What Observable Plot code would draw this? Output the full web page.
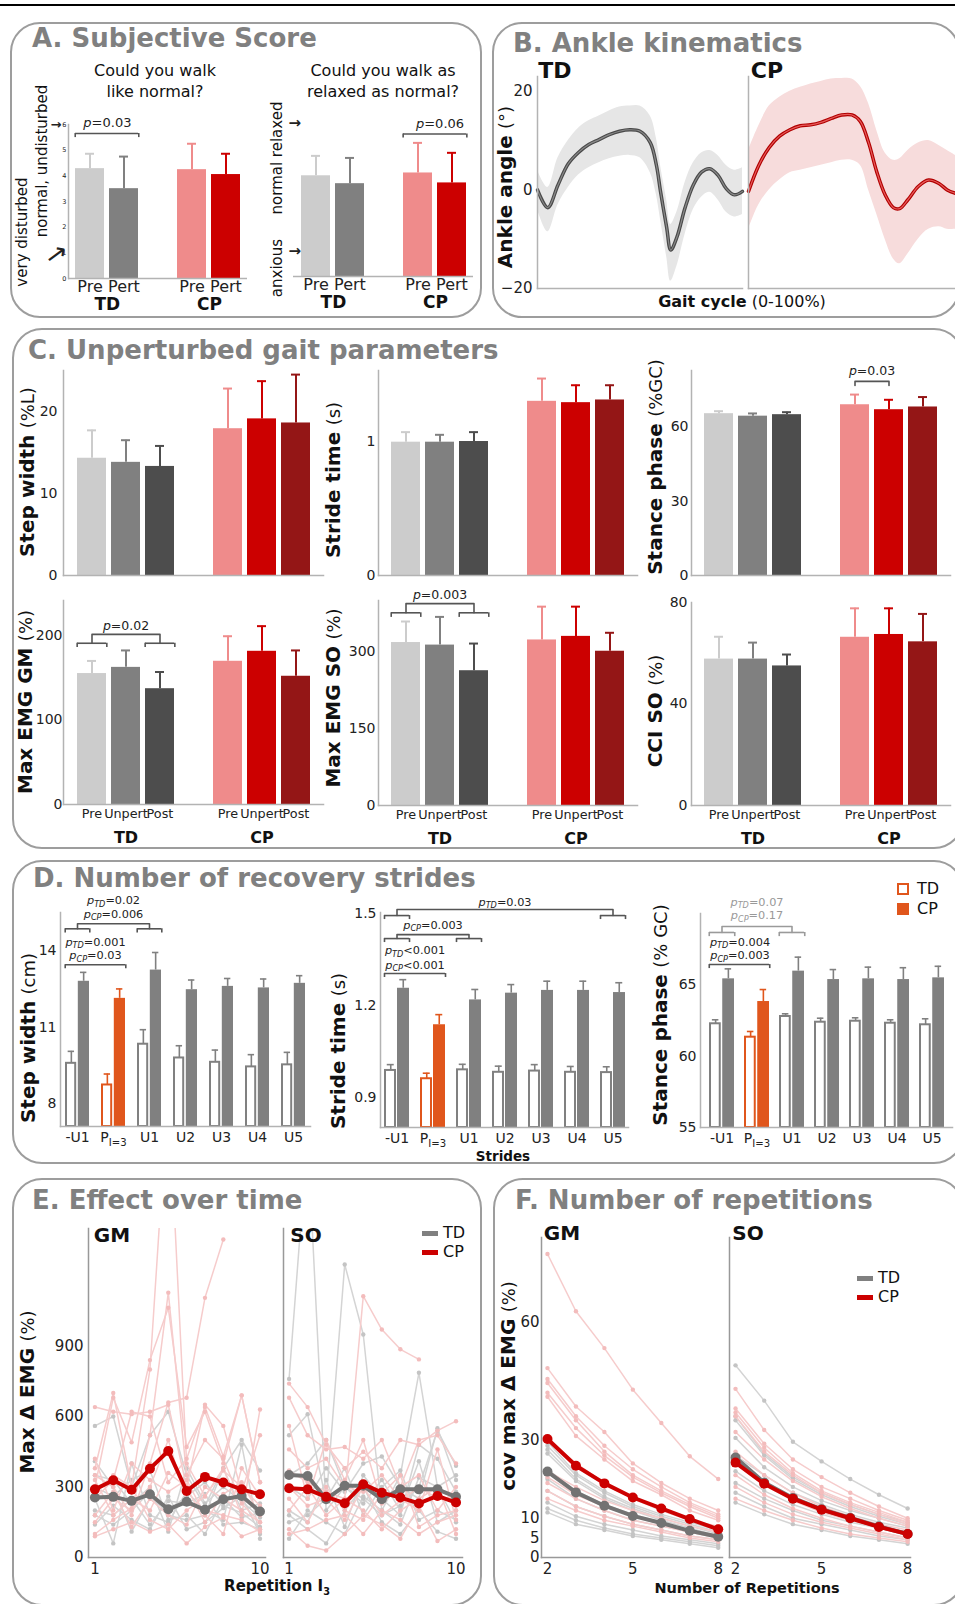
<!DOCTYPE html>
<html><head><meta charset="utf-8">
<script src="https://cdn.jsdelivr.net/npm/d3@7"></script>
<script src="https://cdn.jsdelivr.net/npm/@observablehq/plot@0.6"></script>
<style>
body{margin:0;background:#fff;}
#root{position:relative;width:955px;height:1604px;overflow:hidden;font-family:"DejaVu Sans",Verdana,sans-serif;color:#111;background:#fff;}
</style></head><body><div id="root"></div>
<script>
// ---------------- DATA ----------------
// Panel A: subjective score
const aCats = ["TD Pre","TD Pert","gap","CP Pre","CP Pert"];
const aKeys = ["TD Pre","TD Pert","CP Pre","CP Pert"];
const aColors = ["#cccccc","#808080","#ef8b8b","#cc0000"];
const aQ1 = [4.28,3.50,4.24,4.05];
const aQ1sd = [0.58,1.25,1.01,0.81];
const aQ2 = [3.95,3.64,4.06,3.67];
const aQ2sd = [0.78,1.01,1.18,1.18];
const aYTicks = [0,1,2,3,4,5,6];

// Panel B: ankle kinematics
const bPctTD = [0,5,10,15,20,25,30,35,40,45,50,55,58,60,63,65,68,72,76,80,84,88,92,96,100];
const bTDmean = [0,-3.6,1.0,5.3,7.6,9.2,10.2,11.2,11.9,12.2,11.9,9.6,5.0,-0.3,-7.6,-12.2,-9.6,-3.6,1.0,3.6,4.3,3.0,0.3,-1.0,-0.3];
const bTDhi = [4,0.5,6.5,10,12.5,14,15,16,16.8,17,17,15,10.5,5,-2,-7,-4.5,1.5,5.5,7.5,8,7,5,4,4.5];
const bTDlo = [-4,-8.5,-3,0.5,3,4.5,5.5,6.3,6.8,7,6.5,3.5,-1,-6,-13.5,-18.5,-15.5,-9,-4,-1.5,-0.5,-2,-4.5,-5.5,-5];
const bPctCP = [0,5,10,15,20,25,30,35,40,45,50,54,58,62,66,70,73,77,82,87,92,96,100];
const bCPmean = [-0.3,5.0,8.6,10.9,12.2,13.0,13.2,13.7,14.5,15.2,15.2,13.9,9.6,3.6,-1.0,-3.6,-3.8,-2.0,0.7,2.0,1.3,0,-0.7];
const bCPhi = [8,13,17,18.8,20,20.8,21.5,22,22.5,22.6,22.5,21,17.5,12,7.5,6,6.3,8,9.5,10,9,8,7];
const bCPlo = [-8,-3,0,2,3.5,4,4.5,5,5.5,6,6,5,0,-5,-10,-14,-15,-13,-10,-8,-7.5,-8,-8];
const bYTicks = [-20,0,20];

// Panel C: unperturbed gait parameters
const cCats = ["TD Pre","TD Unpert","TD Post","gap","CP Pre","CP Unpert","CP Post"];
const cKeys = ["TD Pre","TD Unpert","TD Post","CP Pre","CP Unpert","CP Post"];
const cColors = ["#cccccc","#808080","#4d4d4d","#ef8b8b","#cc0000","#941616"];
const cStepW = [14.3,13.8,13.3,17.9,19.1,18.6];
const cStepWsd = [3.4,2.7,2.5,4.9,4.6,5.9];
const cStride = [0.995,0.995,1.0,1.30,1.29,1.31];
const cStridesd = [0.075,0.055,0.07,0.17,0.13,0.11];
const cStance = [65.2,64.2,64.8,68.8,66.8,67.9];
const cStancesd = [1.0,1.1,1.0,4.1,4.0,4.0];
const cGM = [154.7,162,136.8,169.2,181,151.5];
const cGMsd = [14.9,20,19.7,29.6,29.7,30.5];
const cSO = [318,313,263,323,330,301];
const cSOsd = [41,55,53,65,58,36];
const cCCI = [57.7,57.7,55,66.3,67.4,64.5];
const cCCIsd = [8.8,6.5,4.5,11.4,10.3,11];

// Panel D: recovery strides
const dGroups = ["-U1","P","U1","U2","U3","U4","U5"];
const dStepTD = [9.58,8.73,10.33,9.79,9.62,9.44,9.52];
const dStepTDsd = [0.47,0.43,0.57,0.48,0.48,0.48,0.49];
const dStepCP = [12.8,12.13,13.24,12.47,12.6,12.54,12.72];
const dStepCPsd = [0.35,0.37,0.69,0.38,0.31,0.35,0.3];
const dStrTD = [0.988,0.961,0.990,0.982,0.986,0.982,0.981];
const dStrTDsd = [0.019,0.018,0.018,0.02,0.021,0.019,0.019];
const dStrCP = [1.256,1.137,1.218,1.24,1.249,1.249,1.242];
const dStrCPsd = [0.028,0.033,0.034,0.028,0.03,0.03,0.032];
const dStaTD = [62.27,61.33,62.78,62.38,62.45,62.31,62.2];
const dStaTDsd = [0.28,0.4,0.19,0.28,0.24,0.24,0.42];
const dStaCP = [65.42,63.83,65.96,65.37,65.42,65.37,65.49];
const dStaCPsd = [0.7,0.84,0.98,0.7,0.82,0.83,0.81];

// Panel E: effect over time (repetitions 1..10)
const eReps = [1,2,3,4,5,6,7,8,9,10];
const eGM_TD_mean = [255,258,241,269,205,237,203,248,262,196];
const eGM_CP_mean = [290,329,288,378,453,283,343,319,290,269];
const eSO_TD_mean = [351,347,248,305,305,248,290,290,290,258];
const eSO_CP_mean = [295,290,258,231,312,276,255,230,262,234];
const eGM_TD_ind = [
 [560,600,300,520,620,350,220,380,500,370],
 [250,60,400,180,150,280,200,160,480,80],
 [410,300,110,250,200,260,320,220,190,130],
 [140,220,160,120,260,120,150,210,260,100],
 [300,260,330,370,160,180,100,250,170,190],
 [200,180,250,140,240,230,270,140,150,120],
 [350,330,230,300,110,380,230,300,240,170],
 [180,140,200,280,180,160,180,380,200,230]];
const eGM_CP_ind = [
 [380,700,300,800,2000,400,260,380,180,630],
 [640,620,610,620,650,300,650,560,280,520],
 [300,680,490,840,1063,470,620,400,690,320],
 [150,250,200,520,1127,350,500,420,230,150],
 [350,300,180,400,660,680,1105,1353,null,null],
 [250,330,620,600,320,420,640,430,690,320],
 [180,280,130,250,180,140,300,250,200,150],
 [100,160,210,300,500,240,200,180,160,110],
 [280,350,300,160,120,200,260,370,300,220],
 [420,200,400,330,280,330,180,100,380,260],
 [90,120,150,110,140,60,130,170,90,120],
 [330,180,250,200,360,300,150,270,320,180]];
const eSO_TD_ind = [
 [760,1800,200,300,250,180,220,300,540,390],
 [520,610,240,1247,949,200,350,786,300,150],
 [300,250,380,280,400,430,300,250,550,330],
 [180,120,60,200,300,150,100,200,110,80],
 [200,150,330,130,350,250,180,480,420,280],
 [150,180,250,380,180,300,370,160,200,160],
 [80,200,150,100,260,200,140,340,300,350],
 [350,400,500,300,230,330,200,410,150,200]];
const eSO_CP_ind = [
 [370,320,280,250,1112,970,886,843,null,null],
 [740,640,480,380,450,380,500,480,540,580],
 [680,520,460,470,420,500,300,500,520,400],
 [560,250,500,330,500,230,300,350,200,300],
 [120,50,30,100,180,140,80,220,70,120],
 [250,150,300,200,160,270,350,130,180,200],
 [200,300,180,250,200,120,200,250,300,100],
 [460,380,420,300,280,350,250,200,460,160],
 [100,120,160,180,100,200,160,100,150,180],
 [300,220,250,160,300,180,240,300,250,240]];

// Panel F: number of repetitions (2..8)
const fReps = [2,3,4,5,6,7,8];
const fGM_TD_mean = [21.9,16.6,13.2,10.6,8.8,6.8,5.3];
const fGM_CP_mean = [30.2,23.4,18.9,15.3,12.5,9.8,7.2];
const fSO_TD_mean = [25.5,19.1,15.2,12.3,10.1,7.9,6.0];
const fSO_CP_mean = [24.2,18.8,15.0,12.2,10.0,7.8,6.0];
const fGM_TD_ind = [
 [29.5,21.5,17,13.5,11,9,7],[28.5,21,16.5,13,10.5,8.5,6.5],[27.5,20,15.5,12.5,10,8,6],
 [26.5,19.5,15,12,9.5,7.5,5.5],[22.5,17,13.5,11,9,7,5.5],[20,15,12,9.5,8,6.5,5],
 [17,13,10.5,8.5,7,5.5,4.5],[14,10.5,8.5,7,5.5,4.5,3.5],[12.5,9.5,7.5,6,5,4,3],[11.5,8.5,7,5.5,4.5,3.5,2.5]];
const fGM_CP_ind = [
 [77.4,62.8,53.4,42.8,34.3,25.8,20],[48.3,38.5,32,24,19,15,12],[45.5,36,28.5,22.5,18,14,11],
 [44.5,35,27,21,17,13.5,10.5],[42,33,26,20.5,16.5,13,10],[41,31,25,19.5,16,12,9.5],
 [30,24,19,15,12,9.5,8],[22,18,14.5,12,10,8,6.5],[19,15,12,9.5,8,6.5,5],
 [17,13,10.5,8.5,7,5.5,4.5],[15,12,9.5,8,6.5,5,4],[20.5,16,13,10.5,8.5,7,5.5]];
const fSO_TD_ind = [
 [49,40,29.5,24.5,20,16,12.5],[36,26.5,20.5,16.5,13.5,11,9],[35,26,20,16,13,10.5,8.5],
 [30.5,23,18,14.5,12,10,8],[26,21,16.5,13.5,11,9,7.5],[25,19,15,12,10,8,6.5],
 [22,17,13.5,11,9,7.5,6],[19,15,12,9.5,8,6.5,5],[16.5,13,10,8.5,7,5.5,4.5],[14,11,8.5,7,5.5,4.5,3.5]];
const fSO_CP_ind = [
 [43,32.5,25,20.5,16.5,13,10],[38,29,22.5,18,15,12,9.5],[37,28,21.5,17,14,11.5,9],
 [36,27,21,16.5,13.5,11,8.5],[32,25,19.5,15.5,12.5,10,8],[27,21,16.5,13,10.5,8.5,7],
 [24,18.5,14.5,11.5,9.5,7.5,6],[21,16,12.5,10,8,6.5,5],[18,14,11,9,7.5,6,4.5],[15,12,9.5,7.5,6,5,4]];

// ---------------- HELPERS ----------------
const FONT = '"DejaVu Sans", Verdana, sans-serif';
const ORANGE = "#e0561c", DGRAY = "#808080", AXC = "#b3b3b3";
const root = document.getElementById("root");
const NS = "http://www.w3.org/2000/svg";

function html(s, css){const d=document.createElement("div");d.innerHTML=s;d.style.cssText="position:absolute;white-space:nowrap;line-height:1;"+css;root.appendChild(d);return d;}
function ctext(s,cx,cy,css=""){return html(s,`left:${cx}px;top:${cy}px;transform:translate(-50%,-50%);${css}`);}
function rtext(s,cx,cy,css=""){return html(s,`left:${cx}px;top:${cy}px;transform:translate(-50%,-50%) rotate(-90deg);${css}`);}
function box(l,t,r,b){html("",`left:${l}px;top:${t}px;width:${r-l}px;height:${b-t}px;border:2.5px solid #9d9d9d;border-radius:30px;box-sizing:border-box;`);}
function title(s,l,t){html(s,`left:${l}px;top:${t}px;font-weight:bold;font-size:26px;color:#808080;`);}
function ylab(b,n,cx,cy,fs=20){rtext(`<b>${b}</b> <span style="font-size:${fs-2}px">${n}</span>`,cx,cy,`font-size:${fs}px;color:#111`);}

function ts(p,txt,at){const t=document.createElementNS(NS,"tspan");for(const k in at)t.setAttribute(k,at[k]);t.textContent=txt;p.appendChild(t);}
function richify(svg){
  svg.querySelectorAll("text, tspan").forEach(el=>{
    if(el.childElementCount)return;
    const s=el.textContent;
    let m=s.match(/^p(?:_(TD|CP))?([=<].*)$/);
    if(m){el.textContent="";ts(el,"p",{"font-style":"italic"});
      if(m[1]){ts(el,m[1],{"font-style":"italic","font-size":"0.72em",dy:"0.3em"});ts(el,m[2],{dy:"-0.22em"});}
      else ts(el,m[2],{});return;}
    m=s.match(/^P_(.+)$/);
    if(m){el.textContent="";ts(el,"P",{});ts(el,m[1],{"font-size":"0.72em",dy:"0.35em"});}
  });
}
function place(spec,fr,m,fs=15){
  const [x0,y0,x1,y1]=fr;
  const M=Object.assign({l:50,t:40,r:20,b:45},m||{});
  const svg=Plot.plot(Object.assign({
    width:x1-x0+M.l+M.r,height:y1-y0+M.t+M.b,
    marginLeft:M.l,marginTop:M.t,marginRight:M.r,marginBottom:M.b,
    style:{fontFamily:FONT,fontSize:fs+"px",color:"#222",background:"none",overflow:"visible"}
  },spec));
  svg.style.position="absolute";svg.style.left=(x0-M.l)+"px";svg.style.top=(y0-M.t)+"px";svg.style.overflow="visible";
  richify(svg);root.appendChild(svg);return svg;
}
function bandInfo(n,x0,x1,pi,po){const step=(x1-x0)/(n-pi+2*po);return {step,bw:step*(1-pi)};}
function edgeBr(list,bw,c){return list.length?[
  Plot.ruleY(list,{x1:"a",x2:"b",y:"y",stroke:c,strokeWidth:1.6}),
  Plot.ruleX(list,{x:"a",y1:"y",y2:"y2",stroke:c,strokeWidth:1.6,dx:-bw/2}),
  Plot.ruleX(list,{x:"b",y1:"y",y2:"y2",stroke:c,strokeWidth:1.6,dx:bw/2})]:[];}
function ctrBr(list,c){const pts=list.flatMap((d,i)=>[{x:d.a,y:d.y2,i},{x:d.a,y:d.y,i},{x:d.b,y:d.y,i},{x:d.b,y:d.y2,i}]);
  return list.length?[Plot.line(pts,{x:"x",y:"y",z:"i",stroke:c,strokeWidth:1.6})]:[];}
function pTexts(list,c,fs){return list.map(d=>Plot.text([d],{x:"x",y:"y",text:"t",dx:d.dx||0,fill:c,fontSize:fs}));}

// ---------------- LAYOUT: boxes & titles ----------------
html("","left:0;top:4px;width:955px;height:1.5px;background:#000");
box(10,22,482,318); box(492,22,960,318); box(12,328,964,849); box(12,860,964,1164); box(12,1178,482,1606); box(493,1178,964,1606);
title("A. Subjective Score",32,25); title("B. Ankle kinematics",513,30); title("C. Unperturbed gait parameters",28,337);
title("D. Number of recovery strides",33,865); title("E. Effect over time",32,1187); title("F. Number of repetitions",515,1187);

// ---------------- PANEL A ----------------
function aChart(fr,mean,sd,opt){
  const rows=aKeys.map((k,i)=>({k,v:mean[i],e:mean[i]+sd[i]}));
  const {step,bw}=bandInfo(5,fr[0],fr[2],0.15,0.15);
  const marks=[
    Plot.barY(rows,{x:"k",y:"v",fill:"k"}),
    Plot.ruleX(rows,{x:"k",y1:"v",y2:"e",stroke:"k",strokeWidth:2}),
    Plot.tickY(rows,{x:"k",y:"e",stroke:"k",strokeWidth:2,insetLeft:10,insetRight:10}),
    Plot.ruleY([0],{stroke:AXC,strokeWidth:1.5}),
    Plot.axisX({tickSize:0,tickPadding:2,fontSize:16,label:null,tickFormat:d=>d==="gap"?"":d.split(" ")[1]}),
    Plot.text(["TD Pre","CP Pre"],{x:d=>d,text:d=>d.split(" ")[0],frameAnchor:"bottom",lineAnchor:"middle",dx:step/2,dy:26,fontSize:17,fontWeight:"bold",fill:"#111"}),
    ...edgeBr(opt.br,bw,"#555"),
    ...pTexts(opt.pt,"#222",13),
    ...opt.extra
  ];
  place({x:{type:"band",domain:aCats,paddingInner:0.15,paddingOuter:0.15,label:null},
    y:{domain:[0,6],label:null,axis:null},color:{domain:aKeys,range:aColors},marks},fr,{l:60,t:30,r:10,b:40},16);
}
aChart([68,124,247,278],aQ1,aQ1sd,{
  br:[{a:"TD Pre",b:"TD Pert",y:5.65,y2:5.49}],
  pt:[{x:"TD Pre",y:6.05,t:"p=0.03",dx:17.4}],
  extra:[Plot.frame({anchor:"left",stroke:AXC,strokeWidth:1.5}),
    Plot.axisY({ticks:aYTicks,tickFormat:"d",tickSize:0,tickPadding:2,fontSize:6.5,label:null}),
    Plot.text([6],{y:d=>d,text:()=>"→",frameAnchor:"left",dx:-18,fontSize:13,fontWeight:"bold"}),
    Plot.text([1],{y:d=>d,text:()=>"→",frameAnchor:"left",dx:-21,dy:8,fontSize:26,rotate:-36})]
});
aChart([293,123,473,276],aQ2,aQ2sd,{
  br:[{a:"CP Pre",b:"CP Pert",y:5.59,y2:5.43}],
  pt:[{x:"CP Pre",y:5.99,t:"p=0.06",dx:22}],
  extra:[Plot.text([6,1],{y:d=>d,text:()=>"→",frameAnchor:"left",dx:-5,fontSize:15,fontWeight:"bold"})]
});
ctext("Could you walk",155,71,"font-size:16px");ctext("like normal?",155,92,"font-size:16px");
ctext("Could you walk as",383,71,"font-size:16px");ctext("relaxed as normal?",383,92,"font-size:16px");
rtext("very disturbed",22,232,"font-size:15px");rtext("normal, undisturbed",42,161,"font-size:15px");
rtext("normal relaxed",277,158,"font-size:15px");rtext("anxious",277,268,"font-size:15px");

// ---------------- PANEL B ----------------
function bChart(fr,pct,mean,lo,hi,c,showY){
  const rows=pct.map((p,i)=>({p,m:mean[i],lo:lo[i],hi:hi[i]}));
  place({x:{domain:[0,100],axis:null},
    y:{domain:[-20,23],ticks:bYTicks,tickSize:0,tickPadding:5,label:null,axis:showY?"left":null},
    marks:[
      Plot.areaY(rows,{x:"p",y1:"lo",y2:"hi",fill:c.band,curve:"catmull-rom"}),
      Plot.line(rows,{x:"p",y:"m",stroke:c.line,strokeWidth:3.5,curve:"catmull-rom"}),
      Plot.line(rows,{x:"p",y:"m",stroke:c.line2,strokeWidth:1.2,curve:"catmull-rom"}),
      Plot.frame({anchor:"left",stroke:AXC,strokeWidth:1.5}),
      Plot.frame({anchor:"bottom",stroke:AXC,strokeWidth:1.5})
    ]},fr,{l:45,t:20,r:5,b:30},15);
}
bChart([537,76,742,288],bPctTD,bTDmean,bTDlo,bTDhi,{band:"#e6e6e6",line:"#4a4a4a",line2:"#8a8a8a"},true);
bChart([748,76,955,288],bPctCP,bCPmean,bCPlo,bCPhi,{band:"#f7dcdc",line:"#b00000",line2:"#e85a5a"},false);
ctext("TD",555,71,"font-size:22px;font-weight:bold");ctext("CP",767,71,"font-size:22px;font-weight:bold");
ctext('<b>Gait cycle</b> (0-100%)',742,302,"font-size:16px");
ylab("Ankle angle","(°)",505,187,20);

// ---------------- PANEL C ----------------
function cChart(fr,mean,sd,ydom,yticks,opt){
  const rows=cKeys.map((k,i)=>({k,v:mean[i],e:mean[i]+sd[i]}));
  const {bw}=bandInfo(7,fr[0],fr[2],0.15,0.3);
  const marks=[
    Plot.barY(rows,{x:"k",y:"v",fill:"k"}),
    Plot.ruleX(rows,{x:"k",y1:"v",y2:"e",stroke:"k",strokeWidth:2}),
    Plot.tickY(rows,{x:"k",y:"e",stroke:"k",strokeWidth:2,insetLeft:10,insetRight:10}),
    Plot.frame({anchor:"left",stroke:AXC,strokeWidth:1.5}),
    Plot.frame({anchor:"bottom",stroke:AXC,strokeWidth:1.5}),
    ...edgeBr(opt.edge||[],bw,"#555"),...ctrBr(opt.ctr||[],"#555"),...pTexts(opt.pt||[],"#222",12.5)
  ];
  if(opt.labels){
    marks.push(Plot.axisX({tickSize:0,tickPadding:4,fontSize:12.8,label:null,tickFormat:d=>d==="gap"?"":d.split(" ")[1]}));
    marks.push(Plot.text(["TD Unpert","CP Unpert"],{x:d=>d,text:d=>d.split(" ")[0],frameAnchor:"bottom",lineAnchor:"middle",dy:33,fontSize:16,fontWeight:"bold",fill:"#111"}));
  }
  place({x:{type:"band",domain:cCats,paddingInner:0.15,paddingOuter:0.3,label:null,axis:null},
    y:{domain:ydom,ticks:yticks,tickFormat:opt.fmt||"d",tickSize:0,tickPadding:opt.tp??4,label:null},color:{domain:cKeys,range:cColors},marks},fr,{l:50,t:40,r:10,b:45},14);
}
cChart([63,370,323,575],cStepW,cStepWsd,[0,25],[0,10,20],{tp:6});
cChart([378,370,637,575],cStride,cStridesd,[0,1.53],[0,1],{tp:3});
cChart([691,370,950,575],cStance,cStancesd,[0,82.6],[0,30,60],{tp:3,
  ctr:[{a:"CP Pre",b:"CP Unpert",y:78.2,y2:76.6}],pt:[{x:"CP Pre",y:82.3,t:"p=0.03",dx:17}]});
cChart([63,600,323,804],cGM,cGMsd,[0,241],[0,100,200],{labels:true,tp:1,
  edge:[{a:"TD Pre",b:"TD Pre",y:190.5,y2:185.5},{a:"TD Post",b:"TD Post",y:190.5,y2:185.5}],
  ctr:[{a:"TD Pre",b:"TD Post",y:201,y2:190.5}],pt:[{x:"TD Unpert",y:210.6,t:"p=0.02"}]});
cChart([378,600,637,805],cSO,cSOsd,[0,400],[0,150,300],{labels:true,tp:3,
  edge:[{a:"TD Pre",b:"TD Pre",y:376,y2:367},{a:"TD Post",b:"TD Post",y:376,y2:367}],
  ctr:[{a:"TD Pre",b:"TD Post",y:394,y2:376}],pt:[{x:"TD Unpert",y:411,t:"p=0.003"}]});
cChart([691,602,950,805],cCCI,cCCIsd,[0,80],[0,40,80],{labels:true,tp:4});
ylab("Step width","(%L)",27,472);ylab("Stride time","(s)",333,480);ylab("Stance phase","(%GC)",655,467);
ylab("Max EMG GM","(%)",25,702);ylab("Max EMG SO","(%)",333,698);ylab("CCI SO","(%)",655,711);

// ---------------- PANEL D ----------------
function dChart(fr,dom,ticks,fmt,tdM,tdS,cpM,cpS,pi,po,opt){
  const {bw}=bandInfo(7,fr[0],fr[2],pi,po);const h=bw/2,q=bw/4;
  const rows=dGroups.map((g,i)=>({g,td:tdM[i],tde:tdM[i]+tdS[i],cp:cpM[i],cpe:cpM[i]+cpS[i],col:g==="P"?ORANGE:DGRAY}));
  const marks=[
    Plot.barY(rows,{x:"g",y1:()=>dom[0],y2:"td",fill:"white",stroke:"col",strokeWidth:2,insetLeft:1,insetRight:h+1.5}),
    Plot.barY(rows,{x:"g",y1:()=>dom[0],y2:"cp",fill:"col",insetLeft:h+0.5,insetRight:0}),
    Plot.ruleX(rows,{x:"g",y1:"td",y2:"tde",stroke:"col",strokeWidth:1.6,dx:-q}),
    Plot.tickY(rows,{x:"g",y:"tde",stroke:"col",strokeWidth:1.6,insetLeft:q-3.5,insetRight:bw-q-3.5}),
    Plot.ruleX(rows,{x:"g",y1:"cp",y2:"cpe",stroke:"col",strokeWidth:1.6,dx:q}),
    Plot.tickY(rows,{x:"g",y:"cpe",stroke:"col",strokeWidth:1.6,insetLeft:bw-q-3.5,insetRight:q-3.5}),
    Plot.frame({anchor:"left",stroke:AXC,strokeWidth:1.5}),
    Plot.frame({anchor:"bottom",stroke:AXC,strokeWidth:1.5}),
    ...edgeBr(opt.edge||[],bw,"#555"),...ctrBr(opt.ctr||[],"#555"),...pTexts(opt.pt||[],"#222",11.3),
    ...edgeBr(opt.gedge||[],bw,"#9a9a9a"),...ctrBr(opt.gctr||[],"#9a9a9a"),...pTexts(opt.gpt||[],"#999",11.3)
  ];
  place({x:{type:"band",domain:dGroups,paddingInner:pi,paddingOuter:po,label:null,tickSize:0,tickPadding:6,tickFormat:d=>d==="P"?"P_I=3":d},
    y:{domain:dom,ticks,tickFormat:fmt,tickSize:0,tickPadding:4,label:null},color:{type:"identity"},marks},fr,{l:50,t:60,r:10,b:40},14);
}
dChart([60,912,310,1126],[7.1,15.5],[8,11,14],"d",dStepTD,dStepTDsd,dStepCP,dStepCPsd,0.32,0.115,{
  edge:[{a:"-U1",b:"P",y:13.45,y2:13.29},{a:"-U1",b:"-U1",y:14.86,y2:14.7},{a:"U1",b:"U1",y:14.86,y2:14.7}],
  ctr:[{a:"-U1",b:"U1",y:15.06,y2:14.86}],
  pt:[{x:"P",y:15.97,t:"p_TD=0.02"},{x:"P",y:15.43,t:"p_CP=0.006"},{x:"-U1",dx:18,y:14.33,t:"p_TD=0.001"},{x:"-U1",dx:18,y:13.8,t:"p_CP=0.03"}]});
dChart([380,912,628,1127],[0.802,1.503],[0.9,1.2,1.5],".1f",dStrTD,dStrTDsd,dStrCP,dStrCPsd,0.31,0.075,{
  edge:[{a:"-U1",b:"-U1",y:1.493,y2:1.48},{a:"U5",b:"U5",y:1.493,y2:1.48},{a:"-U1",b:"-U1",y:1.418,y2:1.405},{a:"U1",b:"U1",y:1.418,y2:1.405},{a:"-U1",b:"P",y:1.304,y2:1.291}],
  ctr:[{a:"-U1",b:"U5",y:1.513,y2:1.493},{a:"-U1",b:"U1",y:1.431,y2:1.418}],
  pt:[{x:"U2",y:1.536,t:"p_TD=0.03"},{x:"P",y:1.461,t:"p_CP=0.003"},{x:"-U1",dx:18,y:1.378,t:"p_TD<0.001"},{x:"-U1",dx:18,y:1.332,t:"p_CP<0.001"}]});
dChart([700,913,952,1127],[55,70],[55,60,65],"d",dStaTD,dStaTDsd,dStaCP,dStaCPsd,0.29,0.155,{
  gedge:[{a:"-U1",b:"-U1",y:68.67,y2:68.38},{a:"U1",b:"U1",y:68.67,y2:68.38}],
  gctr:[{a:"-U1",b:"U1",y:69.09,y2:68.67}],
  gpt:[{x:"P",y:70.8,t:"p_TD=0.07"},{x:"P",y:69.85,t:"p_CP=0.17"}],
  edge:[{a:"-U1",b:"P",y:66.42,y2:66.14}],
  pt:[{x:"-U1",dx:18,y:68.0,t:"p_TD=0.004"},{x:"-U1",dx:18,y:67.03,t:"p_CP=0.003"}]});
ylab("Step width","(cm)",28,1038);ylab("Stride time","(s)",338,1051);ylab("Stance phase","(% GC)",660,1015);
ctext("Strides",503,1157,"font-size:13.5px;font-weight:bold");
html("",`left:897px;top:883px;width:12px;height:12px;border:2px solid ${ORANGE};box-sizing:border-box;background:#fff`);
html("TD","left:917px;top:881px;font-size:16px");
html("",`left:897px;top:903px;width:12px;height:12px;background:${ORANGE}`);
html("CP","left:917px;top:901px;font-size:16px");

// ---------------- PANELS E & F ----------------
function lChart(fr,xs,xdom,xticks,ydom,yticks,showY,tp,indTD,indCP,mTD,mCP){
  const long=(arrs,g)=>arrs.flatMap((a,k)=>a.map((v,j)=>({x:xs[j],v,id:g+k}))).filter(d=>d.v!=null);
  const tdR=long(indTD,"t"),cpR=long(indCP,"c");
  const mT=mTD.map((v,j)=>({x:xs[j],v})),mC=mCP.map((v,j)=>({x:xs[j],v}));
  place({x:{domain:xdom,ticks:xticks,tickFormat:"d",tickSize:0,tickPadding:6,label:null},
    y:{domain:ydom,ticks:yticks,tickFormat:"d",tickSize:0,tickPadding:tp,label:null,axis:showY?"left":null},
    marks:[
      Plot.line(tdR,{x:"x",y:"v",z:"id",stroke:"#d4d4d4",strokeWidth:1.5,clip:true}),
      Plot.dot(tdR,{x:"x",y:"v",r:2.2,fill:"#c4c4c4",clip:true}),
      Plot.line(cpR,{x:"x",y:"v",z:"id",stroke:"#f6cccc",strokeWidth:1.5,clip:true}),
      Plot.dot(cpR,{x:"x",y:"v",r:2.2,fill:"#f3bcbc",clip:true}),
      Plot.line(mT,{x:"x",y:"v",stroke:"#737373",strokeWidth:4}),
      Plot.dot(mT,{x:"x",y:"v",r:5,fill:"#737373"}),
      Plot.line(mC,{x:"x",y:"v",stroke:"#cc0000",strokeWidth:4}),
      Plot.dot(mC,{x:"x",y:"v",r:5,fill:"#cc0000"}),
      Plot.frame({anchor:"left",stroke:"#999",strokeWidth:1.5}),
      Plot.frame({anchor:"bottom",stroke:"#999",strokeWidth:1.5})
    ]},fr,{l:50,t:20,r:10,b:30},15);
}
lChart([88,1228,265,1557],eReps,[0.65,10.3],[1,10],[0,1400],[0,300,600,900],true,5,eGM_TD_ind,eGM_CP_ind,eGM_TD_mean,eGM_CP_mean);
lChart([283,1228,462,1557],eReps,[0.7,10.35],[1,10],[0,1400],[0,300,600,900],false,5,eSO_TD_ind,eSO_CP_ind,eSO_TD_mean,eSO_CP_mean);
lChart([541,1237,722,1557],fReps,[1.79,8.15],[2,5,8],[0,81.6],[0,5,10,30,60],true,2,fGM_TD_ind,fGM_CP_ind,fGM_TD_mean,fGM_CP_mean);
lChart([729,1237,910,1557],fReps,[1.79,8.1],[2,5,8],[0,81.6],[0,5,10,30,60],false,2,fSO_TD_ind,fSO_CP_ind,fSO_TD_mean,fSO_CP_mean);
ctext("GM",112,1235,"font-size:20px;font-weight:bold");ctext("SO",306,1235,"font-size:20px;font-weight:bold");
ctext("GM",562,1233,"font-size:20px;font-weight:bold");ctext("SO",748,1233,"font-size:20px;font-weight:bold");
html("","left:422px;top:1231px;width:16px;height:5px;background:#808080");html("TD","left:443px;top:1225px;font-size:16px");
html("","left:422px;top:1250px;width:16px;height:5px;background:#cc0000");html("CP","left:443px;top:1244px;font-size:16px");
html("","left:857px;top:1276px;width:16px;height:5px;background:#808080");html("TD","left:878px;top:1270px;font-size:16px");
html("","left:857px;top:1295px;width:16px;height:5px;background:#cc0000");html("CP","left:878px;top:1289px;font-size:16px");
ctext('Repetition I<sub style="font-size:0.65em">3</sub>',277,1588,"font-size:15px;font-weight:bold");
ctext("Number of Repetitions",747,1588,"font-size:14.5px;font-weight:bold");
ylab("Max Δ EMG","(%)",27,1392);ylab("cov max Δ EMG","(%)",508,1386);
</script></body></html>
